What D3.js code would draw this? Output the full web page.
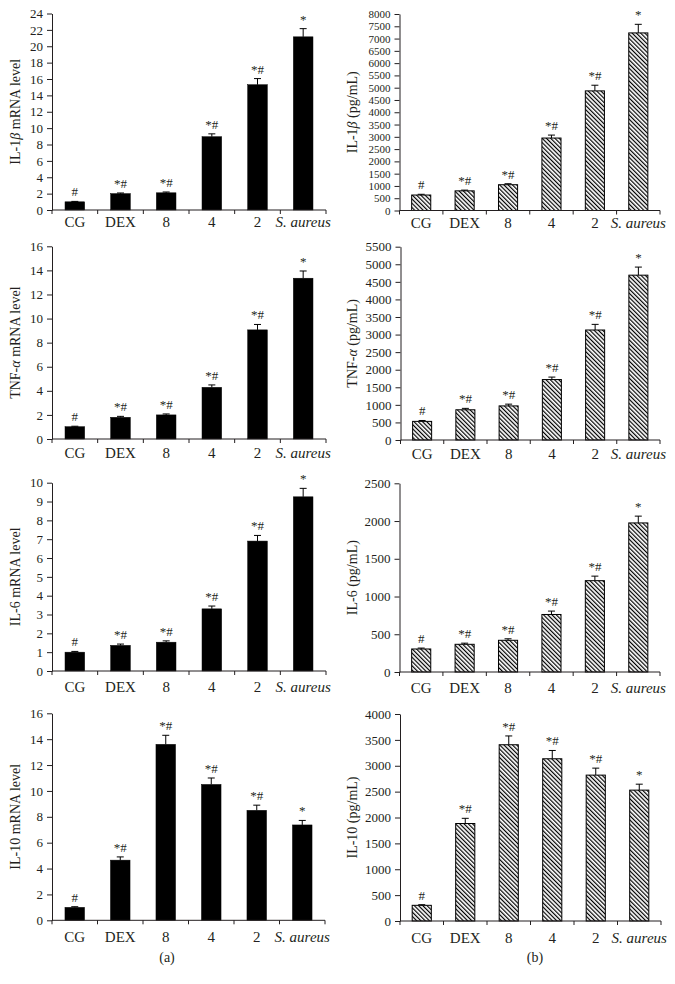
<!DOCTYPE html>
<html>
<head>
<meta charset="utf-8">
<script src="https://cdn.jsdelivr.net/npm/d3@7"></script>
<style>
  html, body { margin: 0; padding: 0; background: #fff; }
  svg { display: block; }
  text { font-family: "Liberation Serif", "DejaVu Serif", serif; fill: #231f20; }
</style>
</head>
<body>
<svg id="chart" width="675" height="984"></svg>
<script>
// ---- Data ----
const categories = ["CG", "DEX", "8", "4", "2", "S. aureus"];
const sigLabels = ["#", "*#", "*#", "*#", "*#", "*"];
const il10SigLabels = ["#", "*#", "*#", "*#", "*#", "*"];

const il1bMrna    = [1.0, 2.0, 2.1, 8.95, 15.3, 21.15];
const il1bMrnaErr = [0.05, 0.08, 0.1, 0.35, 0.75, 1.0];
const il1bPg      = [630, 800, 1050, 2950, 4870, 7230];
const il1bPgErr   = [30, 30, 40, 120, 230, 350];

const tnfMrna     = [1.02, 1.8, 2.0, 4.29, 9.06, 13.35];
const tnfMrnaErr  = [0.04, 0.08, 0.08, 0.2, 0.45, 0.6];
const tnfPg       = [530, 860, 970, 1720, 3130, 4690];
const tnfPgErr    = [25, 40, 50, 70, 160, 230];

const il6Mrna     = [1.0, 1.36, 1.53, 3.3, 6.9, 9.25];
const il6MrnaErr  = [0.04, 0.07, 0.07, 0.15, 0.3, 0.45];
const il6Pg       = [305, 367, 420, 762, 1210, 1975];
const il6PgErr    = [12, 15, 20, 45, 60, 90];

const il10Mrna    = [1.0, 4.65, 13.6, 10.5, 8.5, 7.37];
const il10MrnaErr = [0.05, 0.25, 0.7, 0.5, 0.4, 0.35];
const il10Pg      = [303, 1884, 3406, 3135, 2819, 2529];
const il10PgErr   = [12, 100, 170, 160, 135, 115];

// Y-axis tick values
const ticksIl1bMrna = d3.range(0, 25, 2);
const ticksIl1bPg   = d3.range(0, 8001, 500);
const ticksTnfMrna  = d3.range(0, 17, 2);
const ticksTnfPg    = d3.range(0, 5501, 500);
const ticksIl6Mrna  = d3.range(0, 11, 1);
const ticksIl6Pg    = d3.range(0, 2501, 500);
const ticksIl10Mrna = d3.range(0, 17, 2);
const ticksIl10Pg   = d3.range(0, 4001, 500);

// ---- Layout ----
const svg = d3.select("#chart");
const defs = svg.append("defs");
const pat = defs.append("pattern")
  .attr("id", "hatch")
  .attr("patternUnits", "userSpaceOnUse")
  .attr("width", 3)
  .attr("height", 3)
  .attr("patternTransform", "rotate(-45)");
pat.append("rect").attr("width", 3).attr("height", 3).attr("fill", "#fff");
pat.append("line").attr("x1", 0.6).attr("y1", 0).attr("x2", 0.6).attr("y2", 3)
  .attr("stroke", "#000").attr("stroke-width", 1.2);

const panels = [
  {values: il1bMrna, errs: il1bMrnaErr, ticks: ticksIl1bMrna, label: ["IL-1", "β", " mRNA level"], x0: 52, x1: 326, y0: 13.5, y1: 210, ylx: 15, hatch: false, labOff: 17, sig: sigLabels, tf: 13},
  {values: il1bPg, errs: il1bPgErr, ticks: ticksIl1bPg, label: ["IL-1", "β", " (pg/mL)"], x0: 399.5, x1: 660, y0: 14, y1: 210.5, ylx: 352, hatch: true, labOff: 17, sig: sigLabels, tf: 11},
  {values: tnfMrna, errs: tnfMrnaErr, ticks: ticksTnfMrna, label: ["TNF-", "α", " mRNA level"], x0: 52, x1: 326, y0: 246.3, y1: 439, ylx: 15, hatch: false, labOff: 19, sig: sigLabels, tf: 13},
  {values: tnfPg, errs: tnfPgErr, ticks: ticksTnfPg, label: ["TNF-", "α", " (pg/mL)"], x0: 400.5, x1: 660, y0: 246.7, y1: 440, ylx: 352, hatch: true, labOff: 19, sig: sigLabels, tf: 13},
  {values: il6Mrna, errs: il6MrnaErr, ticks: ticksIl6Mrna, label: ["IL-6 mRNA level"], x0: 52, x1: 326, y0: 482.7, y1: 671, ylx: 15, hatch: false, labOff: 21, sig: sigLabels, tf: 13},
  {values: il6Pg, errs: il6PgErr, ticks: ticksIl6Pg, label: ["IL-6 (pg/mL)"], x0: 399.5, x1: 660, y0: 483.3, y1: 672, ylx: 352, hatch: true, labOff: 21, sig: sigLabels, tf: 13},
  {values: il10Mrna, errs: il10MrnaErr, ticks: ticksIl10Mrna, label: ["IL-10 mRNA level"], x0: 52, x1: 325, y0: 713.3, y1: 920.3, ylx: 15, hatch: false, labOff: 22, sig: il10SigLabels, tf: 13},
  {values: il10Pg, errs: il10PgErr, ticks: ticksIl10Pg, label: ["IL-10 (pg/mL)"], x0: 400, x1: 661, y0: 714, y1: 921, ylx: 352, hatch: true, labOff: 22, sig: il10SigLabels, tf: 13}
];

panels.forEach(p => {
  const g = svg.append("g");
  const x = d3.scaleBand().domain(categories).range([p.x0, p.x1]).padding(0);
  const maxT = p.ticks[p.ticks.length - 1];
  const y = d3.scaleLinear().domain([0, maxT]).range([p.y1, p.y0]);
  const bw = x.bandwidth() * (p.hatch ? 0.44 : 0.43);

  // bars
  g.selectAll("rect.bar").data(p.values).join("rect")
    .attr("class", "bar")
    .attr("x", (d, i) => x(categories[i]) + x.bandwidth() / 2 - bw / 2)
    .attr("y", d => y(d))
    .attr("width", bw)
    .attr("height", d => y(0) - y(d))
    .attr("fill", p.hatch ? "url(#hatch)" : "#000")
    .attr("stroke", "#000")
    .attr("stroke-width", p.hatch ? 1 : 0.5);

  // error bars
  const cx = i => x(categories[i]) + x.bandwidth() / 2;
  g.selectAll("line.err").data(p.values).join("line")
    .attr("x1", (d, i) => cx(i)).attr("x2", (d, i) => cx(i))
    .attr("y1", d => y(d)).attr("y2", (d, i) => y(d + p.errs[i]))
    .attr("stroke", "#000").attr("stroke-width", 1);
  g.selectAll("line.cap").data(p.values).join("line")
    .attr("x1", (d, i) => cx(i) - 3.5).attr("x2", (d, i) => cx(i) + 3.5)
    .attr("y1", (d, i) => y(d + p.errs[i])).attr("y2", (d, i) => y(d + p.errs[i]))
    .attr("stroke", "#000").attr("stroke-width", 1);

  // significance labels
  g.selectAll("text.sig").data(p.values).join("text")
    .attr("x", (d, i) => cx(i))
    .attr("y", (d, i) => y(d + p.errs[i]) - 5)
    .attr("text-anchor", "middle")
    .style("font-size", "13px")
    .attr("fill", "#333")
    .text((d, i) => p.sig[i]);

  // y axis
  const ya = g.append("g").attr("transform", `translate(${p.x0},0)`)
    .call(d3.axisLeft(y).tickValues(p.ticks).tickSize(5).tickPadding(4).tickSizeOuter(0).tickFormat(d3.format("d")));
  ya.select(".domain").attr("stroke", "#231f20");
  ya.selectAll(".tick line").attr("stroke", "#231f20");
  ya.selectAll(".tick text").style("font-size", p.tf + "px").style("font-family", "Liberation Serif").attr("fill", "#231f20");

  // x axis: baseline + ticks at band boundaries
  g.append("line").attr("x1", p.x0).attr("x2", p.x1).attr("y1", y(0)).attr("y2", y(0))
    .attr("stroke", "#231f20").attr("stroke-width", 1);
  const bounds = categories.map(c => x(c)).concat([p.x1]);
  g.selectAll("line.xt").data(bounds).join("line")
    .attr("x1", d => d).attr("x2", d => d)
    .attr("y1", y(0)).attr("y2", y(0) + 4)
    .attr("stroke", "#231f20").attr("stroke-width", 1);
  g.selectAll("text.cat").data(categories).join("text")
    .attr("x", d => x(d) + x.bandwidth() / 2)
    .attr("y", y(0) + p.labOff)
    .attr("text-anchor", "middle")
    .style("font-size", "15px")
    .style("font-style", d => d === "S. aureus" ? "italic" : "normal")
    .text(d => d);

  // y label
  const yl = g.append("text")
    .attr("transform", `translate(${p.ylx + 5},${(p.y0 + p.y1) / 2}) rotate(-90)`)
    .attr("text-anchor", "middle")
    .style("font-size", "14px");
  p.label.forEach((s, i) => {
    yl.append("tspan").text(s).style("font-style", (s === "β" || s === "α") ? "italic" : "normal");
  });
});

svg.append("text").attr("x", 167).attr("y", 962).attr("text-anchor", "middle").style("font-size", "14px").text("(a)");
svg.append("text").attr("x", 535).attr("y", 962).attr("text-anchor", "middle").style("font-size", "14px").text("(b)");
</script>
</body>
</html>
